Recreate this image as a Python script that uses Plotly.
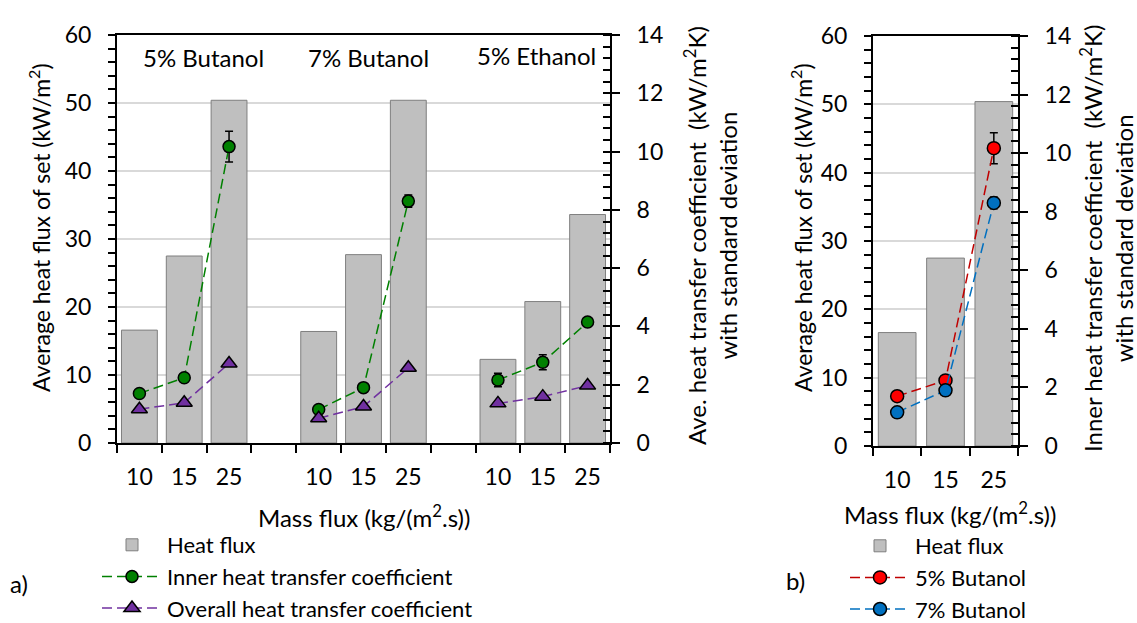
import plotly.graph_objects as go

# ---------------- data ----------------
mass_flux = ["10", "15", "25"]
groups = ["5% Butanol", "7% Butanol", "5% Ethanol"]

heat_flux_b5 = [16.6, 27.5, 50.4]
heat_flux_b7 = [16.4, 27.7, 50.4]
heat_flux_e5 = [12.3, 20.8, 33.6]

inner_b5 = [1.70, 2.24, 10.17]
inner_b5_sd = [0.06, 0.06, 0.53]
inner_b7 = [1.15, 1.90, 8.30]
inner_b7_sd = [0.05, 0.05, 0.21]
inner_e5 = [2.16, 2.77, 4.15]
inner_e5_sd = [0.23, 0.26, 0.15]

overall_b5 = [1.16, 1.38, 2.73]
overall_b7 = [0.85, 1.25, 2.58]
overall_e5 = [1.36, 1.59, 1.97]

W, H = 1137, 623
FONT = "Lato"
FS_TICK = 23
FS_TEXT = 24
FS_YTITLE = 23
FS_YTITLE_R = 24
FS_LEG = 22


def px_x(p):
    return p / W


def px_y(p):
    return 1 - p / H


# ---------------- positions for the grouped (left) chart ----------------
heat_all = [heat_flux_b5, heat_flux_b7, heat_flux_e5]
inner_all = [inner_b5, inner_b7, inner_e5]
inner_sd_all = [inner_b5_sd, inner_b7_sd, inner_e5_sd]
overall_all = [overall_b5, overall_b7, overall_e5]

bar_x, bar_y = [], []
ln_x, in_y, in_sd, ov_y = [], [], [], []
tickvals, ticktext = [], []
for g in range(len(groups)):
    for i in range(len(mass_flux)):
        pos = g * (len(mass_flux) + 1) + i
        bar_x.append(pos)
        bar_y.append(heat_all[g][i])
        ln_x.append(pos)
        in_y.append(inner_all[g][i])
        in_sd.append(inner_sd_all[g][i])
        ov_y.append(overall_all[g][i])
        tickvals.append(pos)
        ticktext.append(mass_flux[i])
    if g < len(groups) - 1:
        ln_x.append(None)
        in_y.append(None)
        in_sd.append(0)
        ov_y.append(None)
n_slots = len(groups) * (len(mass_flux) + 1) - 1
boundaries = [k - 0.5 for k in range(n_slots + 1)]

BAR_FILL = "#bfbfbf"
BAR_LINE = "#7f7f7f"
GREEN = "#008000"
PURPLE = "#7030a0"
RED = "#ff0000"
RED_LINE = "#c00000"
BLUE = "#0070c0"
DASH = "10px,5px"

fig = go.Figure()

# left chart
fig.add_trace(go.Bar(
    x=bar_x, y=bar_y, width=0.8, name="Heat flux",
    marker=dict(color=BAR_FILL, line=dict(color=BAR_LINE, width=1)),
    xaxis="x", yaxis="y", legend="legend"))
fig.add_trace(go.Scatter(
    x=ln_x, y=in_y, name="Inner heat transfer coefficient", mode="lines+markers",
    line=dict(color=GREEN, width=1.5, dash=DASH),
    marker=dict(symbol="circle", size=12, color=GREEN, line=dict(color="black", width=1.5)),
    error_y=dict(type="data", array=in_sd, visible=True, color="black", thickness=1.5, width=4),
    xaxis="x", yaxis="y2", legend="legend", connectgaps=False))
fig.add_trace(go.Scatter(
    x=ln_x, y=ov_y, name="Overall heat transfer coefficient", mode="lines+markers",
    line=dict(color=PURPLE, width=1.5, dash=DASH),
    marker=dict(symbol="triangle-up", size=14, color=PURPLE, line=dict(color="black", width=1.5)),
    xaxis="x", yaxis="y2", legend="legend", connectgaps=False))

# right chart
rx = list(range(len(mass_flux)))
fig.add_trace(go.Bar(
    x=rx, y=heat_flux_b5, width=0.78, name="Heat flux",
    marker=dict(color=BAR_FILL, line=dict(color=BAR_LINE, width=1)),
    xaxis="x2", yaxis="y3", legend="legend2"))
fig.add_trace(go.Scatter(
    x=rx, y=inner_b5, name="5% Butanol", mode="lines+markers",
    line=dict(color=RED_LINE, width=1.5, dash=DASH),
    marker=dict(symbol="circle", size=13, color=RED, line=dict(color="black", width=1.5)),
    error_y=dict(type="data", array=inner_b5_sd, visible=True, color="black", thickness=1.5, width=4),
    xaxis="x2", yaxis="y4", legend="legend2"))
fig.add_trace(go.Scatter(
    x=rx, y=inner_b7, name="7% Butanol", mode="lines+markers",
    line=dict(color=BLUE, width=1.5, dash=DASH),
    marker=dict(symbol="circle", size=13, color=BLUE, line=dict(color="black", width=1.5)),
    error_y=dict(type="data", array=inner_b7_sd, visible=True, color="#404040", thickness=1.5, width=4),
    xaxis="x2", yaxis="y4", legend="legend2"))

axis_font = dict(family=FONT, size=FS_TICK, color="black")

common_x = dict(
    showline=True, linecolor="black", linewidth=2, mirror=True,
    showgrid=False, zeroline=False, automargin=False,
    ticks="outside", ticklen=8, tickcolor="rgba(0,0,0,0)",
    tickfont=axis_font, ticklabelstandoff=4,
)
y_left = dict(
    range=[0, 60], dtick=10, tick0=0, automargin=False,
    showline=True, linecolor="black", linewidth=2,
    showgrid=True, gridcolor="#d9d9d9", gridwidth=2, zeroline=False,
    ticks="outside", ticklen=7, tickwidth=2, tickcolor="black",
    minor=dict(dtick=2, ticks="outside", ticklen=7, tickwidth=1.5, tickcolor="black", showgrid=False),
    tickfont=axis_font, ticklabelstandoff=12,
)
y_right = dict(
    range=[0, 14], dtick=2, tick0=0, side="right", automargin=False,
    showline=True, linecolor="black", linewidth=2,
    showgrid=False, zeroline=False,
    ticks="outside", ticklen=8, tickwidth=2, tickcolor="black",
    minor=dict(dtick=0.4, ticks="inside", ticklen=7, tickwidth=1.5, tickcolor="black", showgrid=False),
    tickfont=axis_font, ticklabelstandoff=12,
)

fig.update_layout(
    width=W, height=H,
    margin=dict(l=0, r=0, t=0, b=0, autoexpand=False),
    paper_bgcolor="white", plot_bgcolor="white",
    font=dict(family=FONT, size=FS_TEXT, color="black"),
    barmode="overlay",
    xaxis=dict(common_x, domain=[px_x(117), px_x(610)], range=[-0.5, n_slots - 0.5],
               tickvals=tickvals, ticktext=ticktext, anchor="y",
               minor=dict(tickvals=boundaries, ticks="outside", ticklen=8, tickwidth=1.5,
                          tickcolor="black", showgrid=False)),
    yaxis=dict(y_left, domain=[px_y(443), px_y(35)], anchor="x"),
    yaxis2=dict(y_right, overlaying="y", anchor="x"),
    xaxis2=dict(common_x, domain=[px_x(873), px_x(1018)], range=[-0.5, len(mass_flux) - 0.5],
                tickvals=rx, ticktext=mass_flux, anchor="y3",
                minor=dict(tickvals=[k - 0.5 for k in range(len(mass_flux) + 1)], ticks="outside",
                           ticklen=8, tickwidth=1.5, tickcolor="black", showgrid=False)),
    yaxis3=dict(y_left, domain=[px_y(446), px_y(36)], anchor="x2"),
    yaxis4=dict(y_right, overlaying="y3", anchor="x2"),
    legend=dict(x=px_x(97), y=px_y(524), xanchor="left", yanchor="top",
                font=dict(family=FONT, size=FS_LEG), bgcolor="rgba(0,0,0,0)",
                itemwidth=60, tracegroupgap=0),
    legend2=dict(x=px_x(845), y=px_y(525), xanchor="left", yanchor="top",
                 font=dict(family=FONT, size=FS_LEG), bgcolor="rgba(0,0,0,0)",
                 itemwidth=60, tracegroupgap=0),
    showlegend=True,
)

ann = []
# group labels
for label, cx, cy in [(groups[0], 203, 58), (groups[1], 368, 58), (groups[2], 536, 55)]:
    ann.append(dict(text=label, x=px_x(cx), y=px_y(cy), xref="paper", yref="paper",
                    xanchor="center", yanchor="middle", showarrow=False, font=dict(size=FS_TEXT)))
# axis titles
ann.append(dict(text="Average heat flux of set (kW/m<sup>2</sup>)", x=px_x(40), y=px_y(228),
                textangle=-90, xref="paper", yref="paper", xanchor="center", yanchor="middle",
                showarrow=False, font=dict(size=FS_YTITLE)))
ann.append(dict(text="Ave. heat transfer coefficient  (kW/m<sup>2</sup>K)<br>with standard deviation",
                x=px_x(710), y=px_y(236), textangle=-90, xref="paper", yref="paper",
                xanchor="center", yanchor="middle", showarrow=False, font=dict(size=FS_YTITLE_R)))
ann.append(dict(text="Mass flux (kg/(m<sup>2</sup>.s))", x=px_x(364), y=px_y(516),
                xref="paper", yref="paper", xanchor="center", yanchor="middle",
                showarrow=False, font=dict(size=FS_TEXT)))
ann.append(dict(text="Average heat flux of set (kW/m<sup>2</sup>)", x=px_x(802), y=px_y(228),
                textangle=-90, xref="paper", yref="paper", xanchor="center", yanchor="middle",
                showarrow=False, font=dict(size=FS_YTITLE)))
ann.append(dict(text="Inner heat transfer coefficient  (kW/m<sup>2</sup>K)<br>with standard deviation",
                x=px_x(1107), y=px_y(239), textangle=-90, xref="paper", yref="paper",
                xanchor="center", yanchor="middle", showarrow=False, font=dict(size=FS_YTITLE_R)))
ann.append(dict(text="Mass flux (kg/(m<sup>2</sup>.s))", x=px_x(950), y=px_y(513),
                xref="paper", yref="paper", xanchor="center", yanchor="middle",
                showarrow=False, font=dict(size=FS_TEXT)))
ann.append(dict(text="a)", x=px_x(19), y=px_y(583), xref="paper", yref="paper",
                xanchor="center", yanchor="middle", showarrow=False, font=dict(size=FS_TEXT)))
ann.append(dict(text="b)", x=px_x(795), y=px_y(580), xref="paper", yref="paper",
                xanchor="center", yanchor="middle", showarrow=False, font=dict(size=FS_TEXT)))
fig.update_layout(annotations=ann)

fig.write_html("out.html")
